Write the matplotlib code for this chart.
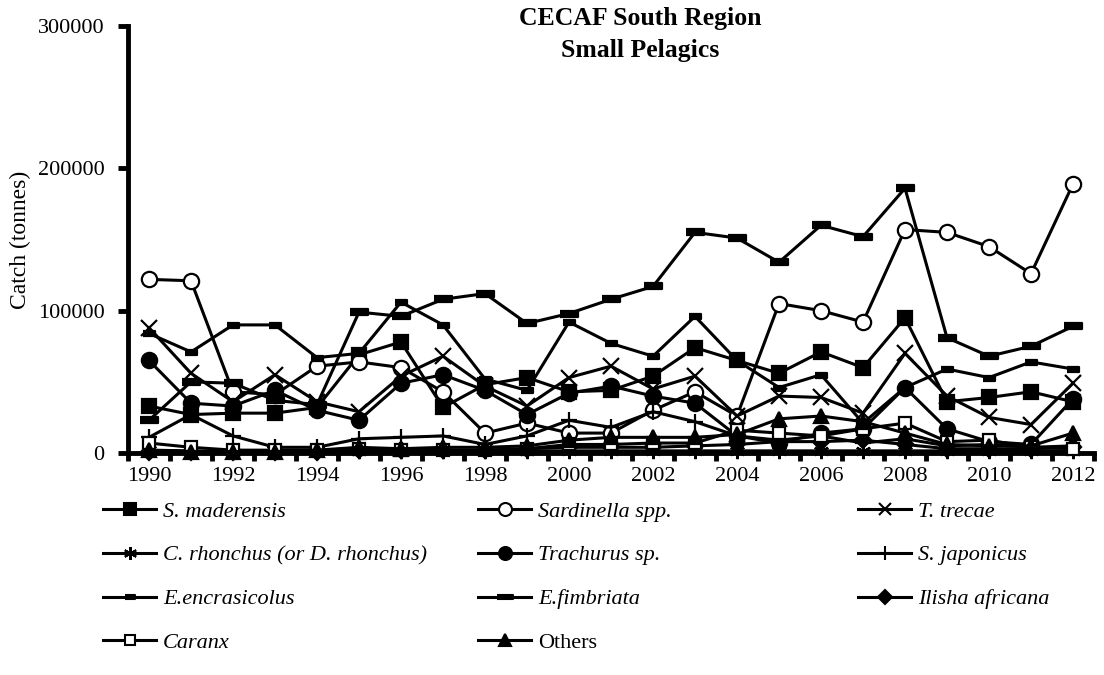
import matplotlib
matplotlib.use("Agg")
from matplotlib import pyplot as plt
from matplotlib.lines import Line2D

plt.rcParams["font.family"] = ["Liberation Serif", "DejaVu Serif"]

years = list(range(1990, 2013))
year_labels = [str(y) for y in range(1990, 2013, 2)]
y_ticks = [0, 100000, 200000, 300000]

s_maderensis = [33000, 27000, 28000, 28000, 32000, 69000, 78000, 32000, 48000, 53000, 43000, 44000,
                54000, 74000, 65000, 56000, 71000, 60000, 95000, 36000, 39000, 43000, 36000]
sardinella = [122000, 121000, 43000, 41000, 61000, 64000, 60000, 43000, 14000, 21000, 14000, 14000,
              30000, 43000, 26000, 105000, 100000, 92000, 157000, 155000, 145000, 126000, 189000]
t_trecae = [88000, 56000, 36000, 55000, 36000, 29000, 54000, 68000, 47000, 33000, 53000, 61000,
            45000, 54000, 26000, 40000, 39000, 28000, 70000, 40000, 25000, 20000, 49000]
c_rhonchus = [2000, 1500, 1000, 1000, 1000, 1500, 1500, 1500, 1500, 1500, 1500, 1500,
              1500, 1500, 1500, 1500, 1500, 1500, 1500, 1500, 1500, 1500, 1500]
trachurus = [65000, 35000, 33000, 44000, 30000, 23000, 49000, 55000, 44000, 27000, 42000, 47000,
             40000, 35000, 12000, 7000, 14000, 17000, 46000, 17000, 8000, 6000, 38000]
s_japonicus = [11000, 27000, 12000, 4000, 4000, 10000, 11000, 12000, 6000, 12000, 23000, 18000,
               29000, 22000, 12000, 9000, 12000, 7000, 10000, 5000, 6000, 4000, 5000]
e_encrasicolus = [84000, 71000, 90000, 90000, 67000, 70000, 106000, 90000, 52000, 44000, 92000, 77000,
                  68000, 96000, 65000, 46000, 55000, 21000, 46000, 59000, 53000, 64000, 59000]
e_fimbriata = [23000, 50000, 49000, 37000, 34000, 99000, 96000, 108000, 112000, 91000, 98000, 108000,
               117000, 155000, 151000, 134000, 160000, 152000, 186000, 81000, 68000, 75000, 89000]
ilisha = [1000, 1000, 1000, 1000, 1000, 2000, 2000, 2000, 2000, 3000, 4000, 4000,
          4000, 5000, 6000, 8000, 8000, 9000, 6000, 3000, 3000, 3000, 4000]
caranx = [7000, 4000, 2000, 2000, 2000, 3000, 2000, 2000, 2000, 3000, 6000, 6000,
          7000, 7000, 16000, 14000, 12000, 17000, 21000, 8000, 9000, 4000, 3000]
others = [2000, 1000, 1000, 1000, 2000, 4000, 3000, 4000, 4000, 5000, 9000, 11000,
          11000, 11000, 13000, 24000, 26000, 22000, 14000, 6000, 5000, 5000, 14000]

small_bar = [(-1, -0.4), (1, -0.4), (1, 0.4), (-1, 0.4)]
wide_bar = [(-1, -0.3), (1, -0.3), (1, 0.3), (-1, 0.3)]

# (label, values, marker, size, face, italic)
series = [
    ("S. maderensis", s_maderensis, "s", 10, "black", True),
    ("Sardinella spp.", sardinella, "o", 11, "white", True),
    ("T. trecae", t_trecae, "x", 11, "black", True),
    ("C. rhonchus (or D. rhonchus)", c_rhonchus, (6, 2, 0), 11, "black", True),
    ("Trachurus sp.", trachurus, "o", 11, "black", True),
    ("S. japonicus", s_japonicus, "+", 12, "black", True),
    ("E.encrasicolus", e_encrasicolus, small_bar, 9, "black", True),
    ("E.fimbriata", e_fimbriata, wide_bar, 13, "black", True),
    ("Ilisha africana", ilisha, "D", 8, "black", True),
    ("Caranx", caranx, "s", 9, "white", True),
    ("Others", others, "^", 10, "black", False),
]

fig = plt.figure(figsize=(11.04, 6.75), dpi=100)
ax = fig.add_axes([128 / 1104, 1 - 453 / 675, (1094 - 128) / 1104, (453 - 26) / 675])

handles = []
for label, vals, mk, ms, face, ital in series:
    ax.plot(years, vals, color="black", lw=2.2, marker=mk, markersize=ms,
            markerfacecolor=face, markeredgecolor="black", markeredgewidth=1.6,
            clip_on=False, zorder=3)
    handles.append(Line2D([], [], color="black", lw=2.2, marker=mk, markersize=ms * 0.85,
                          markerfacecolor=face, markeredgecolor="black", markeredgewidth=1.5,
                          label=label))

ax.set_xlim(1989.5, 2012.5)
ax.set_ylim(0, 300000)
for side in ["top", "right"]:
    ax.spines[side].set_visible(False)
ax.spines["left"].set_linewidth(3.5)
ax.spines["bottom"].set_linewidth(3.5)

ax.set_xticks(range(1990, 2013, 2))
ax.set_xticklabels(year_labels)
ax.set_xticks([y - 0.5 for y in range(1990, 2014)], minor=True)
ax.tick_params(axis="x", which="major", length=0, pad=10, labelsize=16)
ax.tick_params(axis="x", which="minor", length=6, width=3.5, direction="out")
ax.set_yticks(y_ticks)
ax.set_yticklabels([str(v) for v in y_ticks])
ax.tick_params(axis="y", length=7, width=3.5, direction="out", pad=10, labelsize=16)

fig.text(20 / 1104, 1 - 240 / 675, "Catch (tonnes)", rotation=90, ha="center", va="center",
         fontsize=17)

fig.text(640 / 1104, 1 - 18 / 675, "CECAF South Region", ha="center", va="center",
         fontsize=18.5, fontweight="bold")
fig.text(640 / 1104, 1 - 50 / 675, "Small Pelagics", ha="center", va="center",
         fontsize=18.5, fontweight="bold")

col_x = [103, 478, 858]
cols = [[0, 3, 6, 9], [1, 4, 7, 10], [2, 5, 8]]
for cx, idx in zip(col_x, cols):
    leg = fig.legend(handles=[handles[i] for i in idx], loc="upper left",
                     bbox_to_anchor=(cx / 1104, 1 - 501 / 675), frameon=False,
                     prop={"size": 16, "style": "italic"}, handlelength=2.4,
                     handletextpad=0.3, labelspacing=1.05, borderpad=0, borderaxespad=0)
    for i, t in zip(idx, leg.get_texts()):
        if not series[i][5]:
            t.set_fontstyle("normal")

fig.savefig("out.png", dpi=100)
